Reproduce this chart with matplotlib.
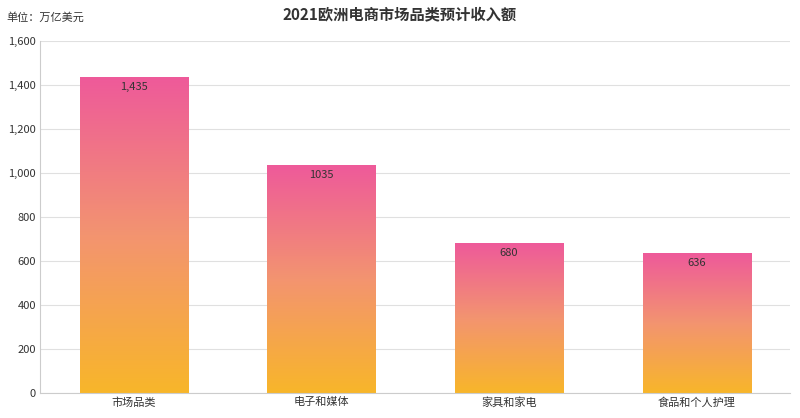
import matplotlib
matplotlib.use("Agg")
import matplotlib.pyplot as plt
import numpy as np
from matplotlib.colors import LinearSegmentedColormap

plt.rcParams["font.family"] = ["Noto Sans CJK SC"]

categories = ["市场品类", "电子和媒体", "家具和家电", "食品和个人护理"]
values = [1435, 1035, 680, 636]
value_labels = ["1,435", "1035", "680", "636"]
yticks = [0, 200, 400, 600, 800, 1000, 1200, 1400, 1600]
ytick_labels = ["0", "200", "400", "600", "800", "1,000", "1,200", "1,400", "1,600"]

fig = plt.figure(figsize=(8, 4.18), dpi=100)
ax = fig.add_axes([0.05, 0.06, 0.938, 0.842])
cmap = LinearSegmentedColormap.from_list("g", ["#F8B62A", "#F39470", "#EE5A9A"])
grad = np.linspace(0, 1, 256).reshape(-1, 1)
w = 0.576
for i, v in enumerate(values):
    ax.imshow(grad, cmap=cmap, aspect="auto", origin="lower",
              extent=[i - w / 2, i + w / 2, 0, v], zorder=2)
    ax.text(i, v - 45, value_labels[i], ha="center", va="center", fontsize=8, color="#333333", zorder=3)

ax.set_xlim(-0.5, 3.5)
ax.set_ylim(0, 1600)
ax.set_xticks(range(4))
ax.set_xticklabels(categories, fontsize=8, color="#333333")
ax.set_yticks(yticks)
ax.set_yticklabels(ytick_labels, fontsize=8, color="#333333")
ax.yaxis.grid(True, color="#E0E0E0", linewidth=0.8, zorder=0)
ax.set_axisbelow(True)
ax.tick_params(length=0, pad=3)
for s in ["top", "right"]:
    ax.spines[s].set_visible(False)
ax.spines["left"].set_color("#CCCCCC")
ax.spines["bottom"].set_color("#CCCCCC")

fig.text(0.5, 0.965, "2021欧洲电商市场品类预计收入额", ha="center", va="center",
         fontsize=11, fontweight="bold", color="#333333")
fig.text(0.008, 0.958, "单位：万亿美元", ha="left", va="center", fontsize=8, color="#333333")

fig.savefig("out.png", dpi=100)
